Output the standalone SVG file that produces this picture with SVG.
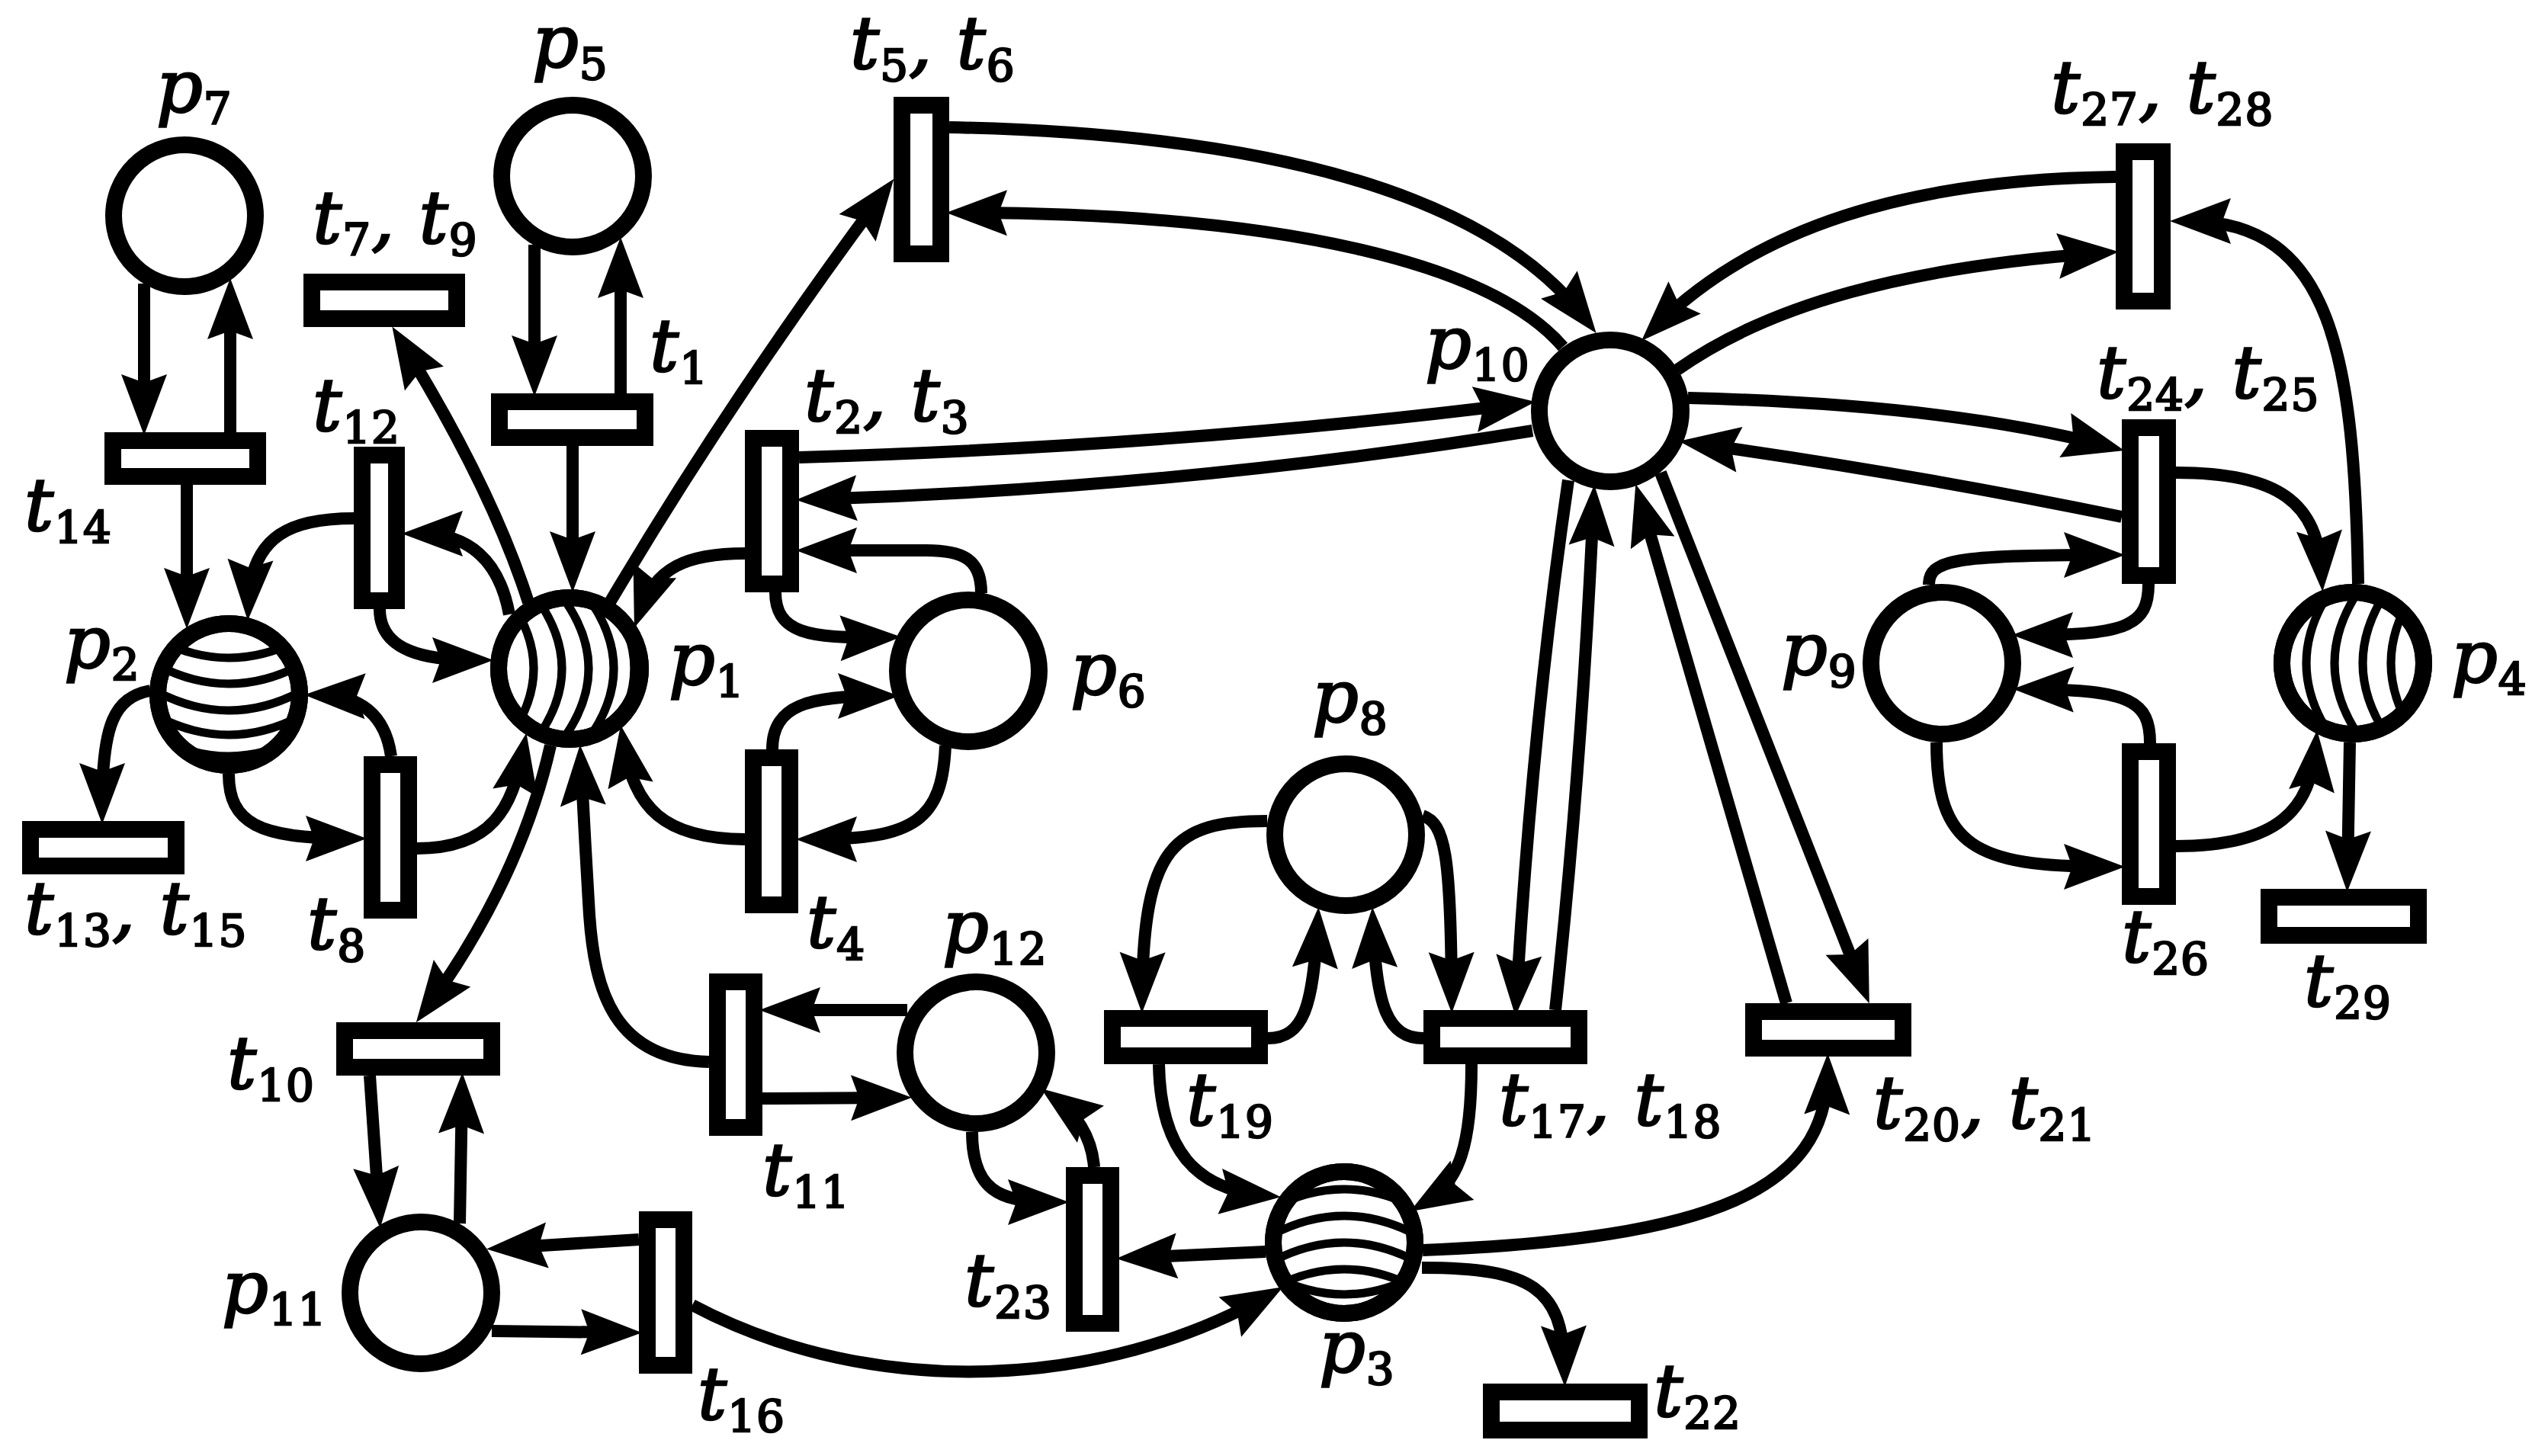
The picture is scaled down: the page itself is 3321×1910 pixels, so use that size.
<svg xmlns="http://www.w3.org/2000/svg" width="3321" height="1910" viewBox="0 0 3321 1910">
<style>
.pl{fill:#fff;stroke:#000;stroke-width:22}
.tr{fill:#fff;stroke:#000;stroke-width:22}
.ar{fill:none;stroke:#000;stroke-width:16;marker-end:url(#ah)}
.ht{fill:none;stroke:#000;stroke-width:11}
.l{font-family:"DejaVu Serif",serif;font-style:italic;font-size:95px;fill:#000;stroke:#000;stroke-width:2.5;letter-spacing:1px}
.s{font-style:normal;font-size:58px}
</style>
<defs>
<marker id="ah" markerUnits="userSpaceOnUse" viewBox="-64 -32 94 64" refX="0" refY="0" markerWidth="94" markerHeight="64" orient="auto">
<path d="M24,0 L-56,-30 L-45,0 L-56,30 Z" fill="#000"/>
</marker>
<clipPath id="c1"><circle cx="747" cy="877" r="93"/></clipPath>
<clipPath id="c2"><circle cx="300" cy="911" r="93"/></clipPath>
<clipPath id="c3"><circle cx="1763" cy="1630" r="93"/></clipPath>
<clipPath id="c4"><circle cx="3086" cy="870" r="93"/></clipPath>
</defs>
<rect width="3321" height="1910" fill="#fff"/>
<g id="connectors">
<path class="ar" d="M189,372 L189,547"/>
<path class="ar" d="M302,567 L302,389"/>
<path class="ar" d="M245,636 L245,801"/>
<path class="ar" d="M701,321 L701,496"/>
<path class="ar" d="M814,516 L814,335"/>
<path class="ar" d="M751,585 L751,753"/>
<path class="ar" d="M693,790 Q645,640 527,449"/>
<path class="ar" d="M800,790 Q960,520 1158,254"/>
<path class="ar" d="M464,680 C385,680 330,700 326,790"/>
<path class="ar" d="M668,806 C655,735 615,700 551,700"/>
<path class="ar" d="M498,799 C498,855 560,866 623,866"/>
<path class="ar" d="M197,906 C150,915 134,950 134,1057"/>
<path class="ar" d="M300,1015 C300,1080 340,1100 457,1100"/>
<path class="ar" d="M513,992 C505,935 470,913 423,912"/>
<path class="ar" d="M547,1113 C645,1113 672,1060 686,985"/>
<path class="ar" d="M722,978 C690,1120 620,1240 560,1322"/>
<path class="ar" d="M930,1393 C805,1390 780,1300 773,1200 Q767,1100 762,1001"/>
<path class="ar" d="M977,1101 C870,1100 832,1060 818,975"/>
<path class="ar" d="M977,726 C900,726 860,745 840,801"/>
<path class="ar" d="M1017,777 C1017,830 1060,838 1158,836"/>
<path class="ar" d="M1287,778 C1287,735 1265,722 1215,722 L1068,722"/>
<path class="ar" d="M1013,983 C1013,925 1060,913 1155,913"/>
<path class="ar" d="M1240,978 C1236,1075 1200,1101 1068,1101"/>
<path class="ar" d="M1245,167 C1650,175 1950,250 2079,418"/>
<path class="ar" d="M2050,455 C1960,350 1700,280 1265,279"/>
<path class="ar" d="M1048,600 Q1550,585 1990,530"/>
<path class="ar" d="M2010,565 Q1550,640 1068,655"/>
<path class="ar" d="M2775,232 C2500,235 2300,300 2170,430"/>
<path class="ar" d="M2200,485 C2320,400 2500,350 2755,332"/>
<path class="ar" d="M2214,522 Q2550,530 2763,585"/>
<path class="ar" d="M2783,678 Q2500,620 2226,582"/>
<path class="ar" d="M2057,630 Q2010,950 1989,1309"/>
<path class="ar" d="M2040,1325 Q2075,1000 2090,660"/>
<path class="ar" d="M2343,1316 L2152,658"/>
<path class="ar" d="M2178,620 L2443,1294"/>
<path class="ar" d="M3093,766 C3088,470 3060,290 2870,290"/>
<path class="ar" d="M2854,620 C2990,620 3040,660 3045,752"/>
<path class="ar" d="M2854,1110 C2990,1110 3030,1060 3037,982"/>
<path class="ar" d="M3082,974 L3079,1146"/>
<path class="ar" d="M2530,767 C2530,735 2560,728 2763,728"/>
<path class="ar" d="M2818,766 C2818,820 2790,833 2663,833"/>
<path class="ar" d="M2820,975 C2820,920 2795,905 2664,904"/>
<path class="ar" d="M2540,974 C2540,1110 2590,1137 2763,1137"/>
<path class="ar" d="M1662,1077 C1540,1077 1500,1110 1498,1305"/>
<path class="ar" d="M1663,1362 C1710,1362 1722,1320 1728,1214"/>
<path class="ar" d="M1867,1362 C1820,1362 1805,1320 1801,1214"/>
<path class="ar" d="M1866,1070 C1895,1080 1903,1120 1904,1305"/>
<path class="ar" d="M1520,1396 C1522,1510 1570,1560 1656,1568"/>
<path class="ar" d="M1930,1396 C1930,1500 1915,1550 1870,1577"/>
<path class="ar" d="M1866,1640 C2250,1625 2395,1560 2397,1406"/>
<path class="ar" d="M1865,1663 C2010,1663 2050,1690 2052,1795"/>
<path class="ar" d="M1660,1642 L1488,1650"/>
<path class="ar" d="M908,1712 C1150,1840 1450,1820 1662,1700"/>
<path class="ar" d="M1190,1325 L1020,1325"/>
<path class="ar" d="M1000,1441 L1172,1440"/>
<path class="ar" d="M1275,1485 C1275,1560 1310,1577 1378,1577"/>
<path class="ar" d="M1435,1531 C1432,1490 1410,1460 1385,1442"/>
<path class="ar" d="M485,1411 L497,1587"/>
<path class="ar" d="M603,1605 L606,1431"/>
<path class="ar" d="M838,1626 L662,1637"/>
<path class="ar" d="M645,1746 L818,1748"/>
</g>
<g id="p1"><circle class="pl" cx="747" cy="877" r="93"/>
<g clip-path="url(#c1)">
<path class="ht" d="M661,777 Q739,877 661,977"/>
<path class="ht" d="M698,777 Q776,877 698,977"/>
<path class="ht" d="M733,777 Q811,877 733,977"/>
<path class="ht" d="M766,777 Q844,877 766,977"/>
<path class="ht" d="M793,777 Q871,877 793,977"/>
</g>
<circle cx="747" cy="877" r="93" fill="none" stroke="#000" stroke-width="22"/>
<text class="l" x="877" y="898">p<tspan class="s" dy="16">1</tspan></text></g>
<g id="p2"><circle class="pl" cx="300" cy="911" r="93"/>
<g clip-path="url(#c2)">
<path class="ht" d="M180,823 Q300,903 420,823"/>
<path class="ht" d="M180,857 Q300,937 420,857"/>
<path class="ht" d="M180,892 Q300,972 420,892"/>
<path class="ht" d="M180,924 Q300,1004 420,924"/>
<path class="ht" d="M180,952 Q300,1032 420,952"/>
</g>
<circle cx="300" cy="911" r="93" fill="none" stroke="#000" stroke-width="22"/>
<text class="l" x="84" y="876">p<tspan class="s" dy="16">2</tspan></text></g>
<g id="p3"><circle class="pl" cx="1763" cy="1630" r="93"/>
<g clip-path="url(#c3)">
<path class="ht" d="M1643,1600 Q1763,1520 1883,1600"/>
<path class="ht" d="M1643,1635 Q1763,1555 1883,1635"/>
<path class="ht" d="M1643,1670 Q1763,1590 1883,1670"/>
<path class="ht" d="M1643,1705 Q1763,1625 1883,1705"/>
<path class="ht" d="M1643,1658 Q1763,1738 1883,1658"/>
</g>
<circle cx="1763" cy="1630" r="93" fill="none" stroke="#000" stroke-width="22"/>
<text class="l" x="1730" y="1800">p<tspan class="s" dy="16">3</tspan></text></g>
<g id="p4"><circle class="pl" cx="3086" cy="870" r="93"/>
<g clip-path="url(#c4)">
<path class="ht" d="M3060,770 Q2990,870 3060,970"/>
<path class="ht" d="M3097,770 Q3027,870 3097,970"/>
<path class="ht" d="M3134,770 Q3064,870 3134,970"/>
<path class="ht" d="M3171,770 Q3101,870 3171,970"/>
</g>
<circle cx="3086" cy="870" r="93" fill="none" stroke="#000" stroke-width="22"/>
<text class="l" x="3215" y="895">p<tspan class="s" dy="16">4</tspan></text></g>
<g id="p5"><circle class="pl" cx="751" cy="231" r="93"/><text class="l" x="698" y="88">p<tspan class="s" dy="16">5</tspan></text></g>
<g id="p6"><circle class="pl" cx="1270" cy="880" r="93"/><text class="l" x="1404" y="911">p<tspan class="s" dy="16">6</tspan></text></g>
<g id="p7"><circle class="pl" cx="242" cy="283" r="93"/><text class="l" x="205" y="147">p<tspan class="s" dy="16">7</tspan></text></g>
<g id="p8"><circle class="pl" cx="1765" cy="1095" r="93"/><text class="l" x="1721" y="947">p<tspan class="s" dy="16">8</tspan></text></g>
<g id="p9"><circle class="pl" cx="2547" cy="870" r="93"/><text class="l" x="2336" y="885">p<tspan class="s" dy="16">9</tspan></text></g>
<g id="p10"><circle class="pl" cx="2112" cy="539" r="93"/><text class="l" x="1869" y="483">p<tspan class="s" dy="16">10</tspan></text></g>
<g id="p11"><circle class="pl" cx="552" cy="1696" r="93"/><text class="l" x="291" y="1722">p<tspan class="s" dy="16">11</tspan></text></g>
<g id="p12"><circle class="pl" cx="1280" cy="1381" r="93"/><text class="l" x="1236" y="1249">p<tspan class="s" dy="16">12</tspan></text></g>
<g id="t1"><rect class="tr" x="655" y="527" width="191" height="47"/><text class="l" x="852" y="487">t<tspan class="s" dy="16">1</tspan></text></g>
<g id="t2_t3"><rect class="tr" x="988" y="575" width="49" height="191"/><text class="l" x="1055" y="552">t<tspan class="s" dy="16">2</tspan><tspan dy="-16">, t</tspan><tspan class="s" dy="16">3</tspan></text></g>
<g id="t4"><rect class="tr" x="988" y="994" width="48" height="193"/><text class="l" x="1058" y="1243">t<tspan class="s" dy="16">4</tspan></text></g>
<g id="t5_t6"><rect class="tr" x="1183" y="138" width="51" height="195"/><text class="l" x="1115" y="90">t<tspan class="s" dy="16">5</tspan><tspan dy="-16">, t</tspan><tspan class="s" dy="16">6</tspan></text></g>
<g id="t7_t9"><rect class="tr" x="409" y="370" width="190" height="48"/><text class="l" x="410" y="319">t<tspan class="s" dy="16">7</tspan><tspan dy="-16">, t</tspan><tspan class="s" dy="16">9</tspan></text></g>
<g id="t8"><rect class="tr" x="488" y="1003" width="48" height="191"/><text class="l" x="403" y="1245">t<tspan class="s" dy="16">8</tspan></text></g>
<g id="t10"><rect class="tr" x="452" y="1352" width="193" height="48"/><text class="l" x="298" y="1428">t<tspan class="s" dy="16">10</tspan></text></g>
<g id="t11"><rect class="tr" x="941" y="1288" width="48" height="191"/><text class="l" x="1000" y="1568">t<tspan class="s" dy="16">11</tspan></text></g>
<g id="t12"><rect class="tr" x="475" y="597" width="45" height="191"/><text class="l" x="410" y="565">t<tspan class="s" dy="16">12</tspan></text></g>
<g id="t13_t15"><rect class="tr" x="40" y="1088" width="191" height="48"/><text class="l" x="32" y="1225">t<tspan class="s" dy="16">13</tspan><tspan dy="-16">, t</tspan><tspan class="s" dy="16">15</tspan></text></g>
<g id="t14"><rect class="tr" x="148" y="578" width="190" height="47"/><text class="l" x="32" y="696">t<tspan class="s" dy="16">14</tspan></text></g>
<g id="t16"><rect class="tr" x="849" y="1600" width="48" height="191"/><text class="l" x="915" y="1862">t<tspan class="s" dy="16">16</tspan></text></g>
<g id="t17_t18"><rect class="tr" x="1878" y="1336" width="193" height="49"/><text class="l" x="1966" y="1476">t<tspan class="s" dy="16">17</tspan><tspan dy="-16">, t</tspan><tspan class="s" dy="16">18</tspan></text></g>
<g id="t19"><rect class="tr" x="1459" y="1336" width="193" height="49"/><text class="l" x="1556" y="1476">t<tspan class="s" dy="16">19</tspan></text></g>
<g id="t20_t21"><rect class="tr" x="2300" y="1327" width="196" height="48"/><text class="l" x="2457" y="1480">t<tspan class="s" dy="16">20</tspan><tspan dy="-16">, t</tspan><tspan class="s" dy="16">21</tspan></text></g>
<g id="t22"><rect class="tr" x="1956" y="1826" width="194" height="50"/><text class="l" x="2169" y="1858">t<tspan class="s" dy="16">22</tspan></text></g>
<g id="t23"><rect class="tr" x="1409" y="1542" width="48" height="194"/><text class="l" x="1265" y="1713">t<tspan class="s" dy="16">23</tspan></text></g>
<g id="t24_t25"><rect class="tr" x="2794" y="561" width="49" height="194"/><text class="l" x="2750" y="522">t<tspan class="s" dy="16">24</tspan><tspan dy="-16">, t</tspan><tspan class="s" dy="16">25</tspan></text></g>
<g id="t26"><rect class="tr" x="2794" y="986" width="49" height="190"/><text class="l" x="2783" y="1262">t<tspan class="s" dy="16">26</tspan></text></g>
<g id="t27_t28"><rect class="tr" x="2786" y="199" width="50" height="196"/><text class="l" x="2690" y="148">t<tspan class="s" dy="16">27</tspan><tspan dy="-16">, t</tspan><tspan class="s" dy="16">28</tspan></text></g>
<g id="t29"><rect class="tr" x="2976" y="1177" width="196" height="50"/><text class="l" x="3022" y="1320">t<tspan class="s" dy="16">29</tspan></text></g>
</svg>
